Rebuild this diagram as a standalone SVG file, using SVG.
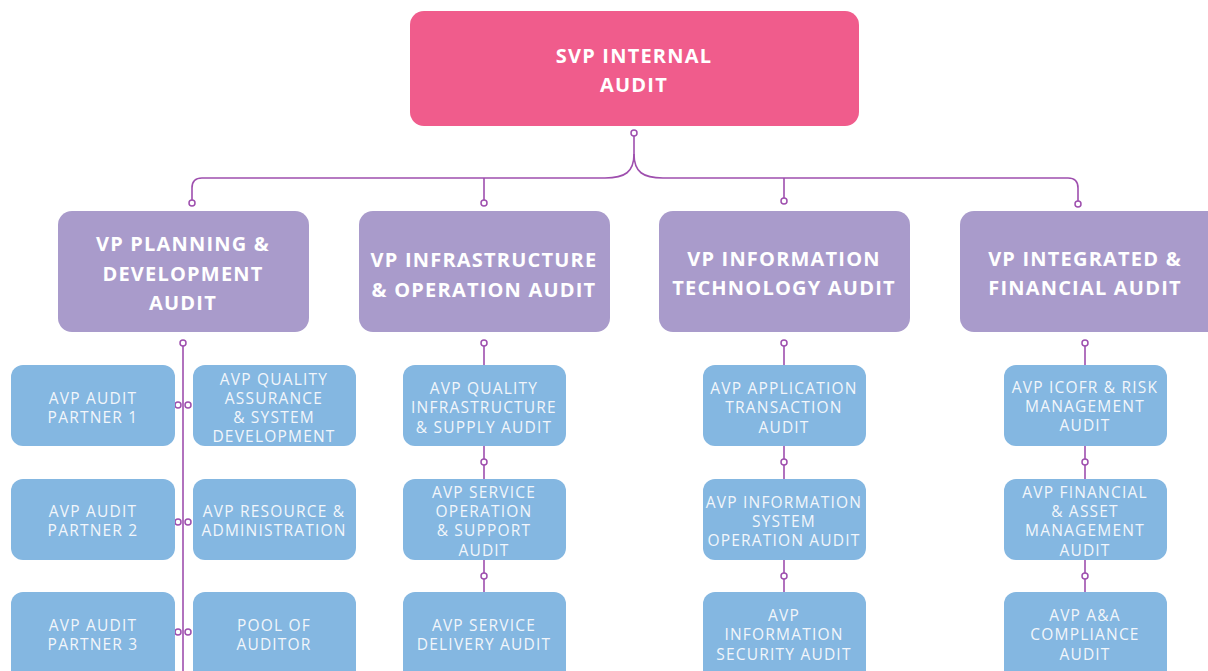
<svg xmlns="http://www.w3.org/2000/svg" width="1208" height="671" viewBox="0 0 1208 671">
<style>
.svp{fill:#F05C8C}
.vp{fill:#A99BCB}
.avp{fill:#84B7E1}
.t1{font-family:"Open Sans","Liberation Sans",sans-serif;font-weight:bold;font-size:20px;letter-spacing:1.2px;fill:#FFFFFF;text-anchor:middle;dominant-baseline:central}
.t2{font-family:"Open Sans","Liberation Sans",sans-serif;font-size:15.5px;letter-spacing:1.2px;fill:#F2F6FB;text-anchor:middle;dominant-baseline:central}
.ln{fill:none;stroke:#9E4FAE;stroke-width:1.6}
.dot{fill:#FFFFFF;stroke:#9E4FAE;stroke-width:1.5}
</style>
<rect width="1208" height="671" fill="#FFFFFF"/>
<g id="connectors">
<path class="ln" d="M634,136 V154 C634,172 625,178 605,178 H202 Q192,178 192,188 V200"/>
<path class="ln" d="M634,154 C634,172 643,178 663,178 H1068 Q1078,178 1078,188 V201"/>
<path class="ln" d="M484,178 V200"/>
<path class="ln" d="M784,178 V198"/>
<circle class="dot" cx="634" cy="133" r="3"/>
<circle class="dot" cx="192" cy="203" r="3"/>
<circle class="dot" cx="484" cy="203" r="3"/>
<circle class="dot" cx="784" cy="201" r="3"/>
<circle class="dot" cx="1078" cy="204" r="3"/>
<path class="ln" d="M183,346 V671"/>
<circle class="dot" cx="183" cy="343" r="3"/>
<circle class="dot" cx="178" cy="405" r="3"/><circle class="dot" cx="188" cy="405" r="3"/>
<circle class="dot" cx="178" cy="522" r="3"/><circle class="dot" cx="188" cy="522" r="3"/>
<circle class="dot" cx="178" cy="632" r="3"/><circle class="dot" cx="188" cy="632" r="3"/>
<path class="ln" d="M484,346 V365 M484,446 V479 M484,559 V592"/>
<circle class="dot" cx="484" cy="343" r="3"/><circle class="dot" cx="484" cy="462" r="3"/><circle class="dot" cx="484" cy="576" r="3"/>
<path class="ln" d="M784,346 V365 M784,446 V479 M784,559 V592"/>
<circle class="dot" cx="784" cy="343" r="3"/><circle class="dot" cx="784" cy="462" r="3"/><circle class="dot" cx="784" cy="576" r="3"/>
<path class="ln" d="M1085,346 V365 M1085,446 V479 M1085,559 V592"/>
<circle class="dot" cx="1085" cy="343" r="3"/><circle class="dot" cx="1085" cy="462" r="3"/><circle class="dot" cx="1085" cy="576" r="3"/>
</g>
<g id="svp">
<rect class="svp" x="410" y="11" width="449" height="115" rx="14"/>
<text class="t1" x="634" y="55">SVP INTERNAL</text>
<text class="t1" x="634" y="84">AUDIT</text>
</g>
<g id="vp1">
<rect class="vp" x="58" y="211" width="251" height="121" rx="14"/>
<text class="t1" x="183" y="243">VP PLANNING &amp;</text>
<text class="t1" x="183" y="273">DEVELOPMENT</text>
<text class="t1" x="183" y="302">AUDIT</text>
</g>
<g id="vp2">
<rect class="vp" x="359" y="211" width="251" height="121" rx="14"/>
<text class="t1" x="484" y="259">VP INFRASTRUCTURE</text>
<text class="t1" x="484" y="289">&amp; OPERATION AUDIT</text>
</g>
<g id="vp3">
<rect class="vp" x="659" y="211" width="251" height="121" rx="14"/>
<text class="t1" x="784" y="258">VP INFORMATION</text>
<text class="t1" x="784" y="287">TECHNOLOGY AUDIT</text>
</g>
<g id="vp4">
<rect class="vp" x="960" y="211" width="262" height="121" rx="14"/>
<text class="t1" x="1085" y="258">VP INTEGRATED &amp;</text>
<text class="t1" x="1085" y="287">FINANCIAL AUDIT</text>
</g>
<g id="avp-partner1">
<rect class="avp" x="11" y="365" width="164" height="81" rx="12"/>
<text class="t2" x="93" y="398">AVP AUDIT</text>
<text class="t2" x="93" y="417">PARTNER 1</text>
</g>
<g id="avp-qa">
<rect class="avp" x="193" y="365" width="163" height="81" rx="12"/>
<text class="t2" x="274" y="379">AVP QUALITY</text>
<text class="t2" x="274" y="398">ASSURANCE</text>
<text class="t2" x="274" y="417">&amp; SYSTEM</text>
<text class="t2" x="274" y="436">DEVELOPMENT</text>
</g>
<g id="avp-partner2">
<rect class="avp" x="11" y="479" width="164" height="81" rx="12"/>
<text class="t2" x="93" y="511">AVP AUDIT</text>
<text class="t2" x="93" y="530">PARTNER 2</text>
</g>
<g id="avp-resource">
<rect class="avp" x="193" y="479" width="163" height="81" rx="12"/>
<text class="t2" x="274" y="511">AVP RESOURCE &amp;</text>
<text class="t2" x="274" y="530">ADMINISTRATION</text>
</g>
<g id="avp-partner3">
<rect class="avp" x="11" y="592" width="164" height="95" rx="12"/>
<text class="t2" x="93" y="625">AVP AUDIT</text>
<text class="t2" x="93" y="644">PARTNER 3</text>
</g>
<g id="pool">
<rect class="avp" x="193" y="592" width="163" height="95" rx="12"/>
<text class="t2" x="274" y="625">POOL OF</text>
<text class="t2" x="274" y="644">AUDITOR</text>
</g>
<g id="avp-qi">
<rect class="avp" x="403" y="365" width="163" height="81" rx="12"/>
<text class="t2" x="484" y="388">AVP QUALITY</text>
<text class="t2" x="484" y="407">INFRASTRUCTURE</text>
<text class="t2" x="484" y="427">&amp; SUPPLY AUDIT</text>
</g>
<g id="avp-so">
<rect class="avp" x="403" y="479" width="163" height="81" rx="12"/>
<text class="t2" x="484" y="492">AVP SERVICE</text>
<text class="t2" x="484" y="511">OPERATION</text>
<text class="t2" x="484" y="530">&amp; SUPPORT</text>
<text class="t2" x="484" y="550">AUDIT</text>
</g>
<g id="avp-sd">
<rect class="avp" x="403" y="592" width="163" height="95" rx="12"/>
<text class="t2" x="484" y="625">AVP SERVICE</text>
<text class="t2" x="484" y="644">DELIVERY AUDIT</text>
</g>
<g id="avp-app">
<rect class="avp" x="703" y="365" width="163" height="81" rx="12"/>
<text class="t2" x="784" y="388">AVP APPLICATION</text>
<text class="t2" x="784" y="407">TRANSACTION</text>
<text class="t2" x="784" y="427">AUDIT</text>
</g>
<g id="avp-iso">
<rect class="avp" x="703" y="479" width="163" height="81" rx="12"/>
<text class="t2" x="784" y="502">AVP INFORMATION</text>
<text class="t2" x="784" y="521">SYSTEM</text>
<text class="t2" x="784" y="540">OPERATION AUDIT</text>
</g>
<g id="avp-isec">
<rect class="avp" x="703" y="592" width="163" height="95" rx="12"/>
<text class="t2" x="784" y="615">AVP</text>
<text class="t2" x="784" y="634">INFORMATION</text>
<text class="t2" x="784" y="654">SECURITY AUDIT</text>
</g>
<g id="avp-icofr">
<rect class="avp" x="1004" y="365" width="163" height="81" rx="12"/>
<text class="t2" x="1085" y="387">AVP ICOFR &amp; RISK</text>
<text class="t2" x="1085" y="406">MANAGEMENT</text>
<text class="t2" x="1085" y="425">AUDIT</text>
</g>
<g id="avp-fin">
<rect class="avp" x="1004" y="479" width="163" height="81" rx="12"/>
<text class="t2" x="1085" y="492">AVP FINANCIAL</text>
<text class="t2" x="1085" y="511">&amp; ASSET</text>
<text class="t2" x="1085" y="530">MANAGEMENT</text>
<text class="t2" x="1085" y="550">AUDIT</text>
</g>
<g id="avp-aa">
<rect class="avp" x="1004" y="592" width="163" height="95" rx="12"/>
<text class="t2" x="1085" y="615">AVP A&amp;A</text>
<text class="t2" x="1085" y="634">COMPLIANCE</text>
<text class="t2" x="1085" y="654">AUDIT</text>
</g>
</svg>
